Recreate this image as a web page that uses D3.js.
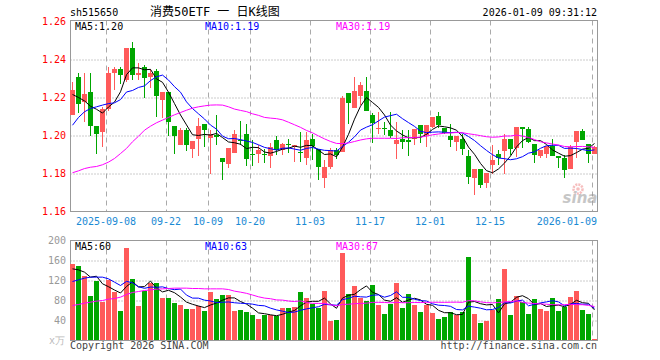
<!DOCTYPE html>
<html lang="zh">
<head>
<meta charset="UTF-8">
<title>消费50ETF 日K线图</title>
<script src="https://d3js.org/d3.v7.min.js"></script>
<style>
  body { margin: 0; background: #fff; }
  svg { display: block; background: #fff; }
  .mono { font-family: 'DejaVu Sans Mono', monospace; font-size: 10px; }
</style>
</head>
<body>
<svg width="660" height="360"></svg>
<script>
// daily bars, 2025-08-29 .. 2026-01-09 (88 trading days)
const open  = [1.211,1.231,1.218,1.223,1.205,1.202,1.214,1.233,1.235,1.229,
               1.246,1.232,1.236,1.231,1.234,1.219,1.223,1.205,1.195,1.203,
               1.193,1.198,1.206,1.199,1.2005,1.188,1.185,1.191,1.1975,1.201,
               1.190,1.1905,1.190,1.1895,1.1975,1.1925,1.1955,1.194,1.1915,1.188,
               1.198,1.193,1.1775,1.1835,1.1925,1.1915,1.2225,1.2145,1.2205,1.2235,
               1.211,1.2035,1.204,1.203,1.1955,1.198,1.1975,1.198,1.2055,1.200,
               1.2045,1.2105,1.204,1.200,1.1965,1.198,1.189,1.178,1.1825,1.175,
               1.1845,1.190,1.1915,1.198,1.1935,1.2045,1.2035,1.1955,1.1895,1.1905,
               1.1945,1.189,1.188,1.1825,1.1965,1.2025,1.1955,1.1905];
const high  = [1.228,1.233,1.233,1.233,1.205,1.215,1.236,1.236,1.236,1.246,
               1.249,1.238,1.237,1.235,1.235,1.223,1.223,1.205,1.204,1.204,
               1.197,1.209,1.206,1.203,1.211,1.188,1.1935,1.203,1.2075,1.206,
               1.1975,1.195,1.193,1.196,1.200,1.196,1.198,1.195,1.202,1.202,
               1.201,1.193,1.187,1.1935,1.1935,1.221,1.2225,1.231,1.228,1.231,
               1.212,1.2125,1.207,1.2125,1.207,1.203,1.203,1.2035,1.2055,1.2055,
               1.2095,1.2125,1.204,1.206,1.1995,1.201,1.1925,1.1825,1.1825,1.1805,
               1.195,1.1925,1.201,1.198,1.2045,1.2045,1.2045,1.1955,1.1915,1.1945,
               1.198,1.189,1.1895,1.195,1.2025,1.2035,1.1955,1.1945];
const low   = [1.211,1.212,1.207,1.200,1.190,1.194,1.213,1.224,1.227,1.228,
               1.229,1.229,1.220,1.225,1.210,1.209,1.200,1.190,1.195,1.192,
               1.188,1.189,1.194,1.180,1.195,1.1765,1.183,1.191,1.195,1.184,
               1.184,1.1855,1.1855,1.183,1.1895,1.1895,1.191,1.186,1.186,1.1845,
               1.187,1.1765,1.1725,1.1825,1.1875,1.1915,1.206,1.2145,1.216,1.213,
               1.196,1.201,1.2005,1.1985,1.1875,1.193,1.189,1.195,1.196,1.194,
               1.204,1.204,1.201,1.194,1.192,1.1895,1.1745,1.1685,1.1725,1.1725,
               1.180,1.1845,1.180,1.1895,1.1885,1.1935,1.196,1.1855,1.188,1.188,
               1.189,1.183,1.1775,1.1825,1.188,1.1975,1.1855,1.190];
const close = [1.224,1.217,1.222,1.205,1.201,1.214,1.233,1.235,1.232,1.246,
               1.232,1.233,1.230,1.233,1.221,1.223,1.207,1.200,1.203,1.195,
               1.197,1.205,1.203,1.201,1.1995,1.186,1.1935,1.201,1.197,1.188,
               1.1895,1.1925,1.1895,1.194,1.1925,1.1955,1.195,1.195,1.191,1.1975,
               1.1945,1.1835,1.1835,1.1925,1.190,1.220,1.217,1.2235,1.2265,1.213,
               1.207,1.204,1.2035,1.200,1.1975,1.1965,1.1965,1.2035,1.201,1.2055,
               1.2095,1.2055,1.2015,1.198,1.1995,1.1925,1.178,1.1825,1.174,1.1805,
               1.187,1.188,1.198,1.1925,1.2045,1.2035,1.1965,1.1895,1.1925,1.1945,
               1.189,1.188,1.1815,1.194,1.2025,1.198,1.1905,1.194];
// volume, 万手
const volume = [153,150,130,90,120,77,121,97,60,185,124,70,100,115,115,86,86,76,72,64,
                64,69,60,98,84,92,92,60,62,58,52,44,52,51,49,66,66,68,98,86,
                74,66,100,40,42,176,94,110,86,80,112,72,54,74,116,66,94,72,58,72,
                56,44,48,58,52,58,168,54,36,40,62,84,144,52,90,78,54,84,64,60,
                86,60,68,88,100,62,54,2];

// moving-average values at the first bars, whose window starts before the chart
const ma5Lead  = [1.2216,1.2200,1.2182,1.2154];
const ma10Lead = [1.2054,1.2095,1.2125,1.2142,1.2151,1.2160,1.2168,1.2172,1.2189];
const ma30Lead = [1.1804,1.1814,1.1826,1.1833,1.1837,1.1846,1.1860,1.1879,1.1905,1.1932,
                  1.1967,1.1996,1.2028,1.2049,1.2067,1.2081,1.2095,1.2109,1.2121,1.2133,
                  1.2144,1.2151,1.2156,1.2160,1.2161,1.2160,1.2151,1.2139,1.2132];
const vMa5Lead  = [143.3,141.3,136.7,126.7];
const vMa10Lead = [118,121.3,124.7,126.7,126.7,126.7,123.3,116.7,110];
const vMa30Lead = [70,72,74.7,76.7,78.7,80,82.7,84,86.7,92,
                   96,98,100,101.3,102.7,103.3,104,104.7,104.7,104.7,
                   104,104,103.3,103.3,103.3,103.3,102,98.7,96.7];

const tickIndex  = [6,16,23,30,40,50,60,70,87];
const tickLabels = ["2025-09-08","09-22","10-09","10-20","11-03","11-17","12-01","12-15","2026-01-09"];
const priceTicks = [1.16,1.18,1.20,1.22,1.24,1.26];
const volTicks   = [40,80,120,160,200];
const priceLegend = ["MA5:1.20","MA10:1.19","MA30:1.19"];
const volLegend   = ["MA5:60","MA10:63","MA30:67"];

const RED = "#ff5a5a", GREEN = "#00a600";
const maColors = ["#000000", "#0000ff", "#ff00ff"];

const svg = d3.select("svg");
const L = 70, R = 598;

const x = d3.scaleBand().domain(d3.range(close.length)).range([L, R]);
const yP = d3.scaleLinear().domain([1.16, 1.26]).range([211.5, 21.5]);
const yV = d3.scaleLinear().domain([0, 200]).range([340.5, 240.5]);

function movingAvg(vals, n, lead) {
    return vals.map((v, i) => i < n - 1 ? lead[i] : d3.mean(vals.slice(i - n + 1, i + 1)));
}

// header
svg.append("text").attr("class", "mono").attr("x", 70).attr("y", 16)
    .text("sh515650");
svg.append("text").attr("x", 150).attr("y", 16)
    .attr("xml:space", "preserve").style("white-space", "pre")
    .style("font-family", "'DejaVu Sans Mono', 'Noto Sans CJK SC', monospace").style("font-size", "12px")
    .text("消费50ETF 一 日K线图");
svg.append("text").attr("class", "mono").attr("x", 597).attr("y", 16)
    .attr("text-anchor", "end")
    .text("2026-01-09 09:31:12");

function panel(y, top, bottom, ticks, gridTicks, labelColor) {
    const g = svg.append("g");
    // horizontal dotted grid
    g.append("g").attr("transform", `translate(${L + 0.5},0)`)
        .call(d3.axisLeft(y).tickValues(gridTicks).tickSize(-(R - L - 1)).tickFormat(""))
        .call(a => a.select(".domain").remove())
        .selectAll("line").attr("stroke", "#999").attr("stroke-dasharray", "1,2");
    // vertical dashed grid
    g.selectAll(".vgrid").data(tickIndex).enter().append("line")
        .attr("x1", i => x(i) + 0.5).attr("x2", i => x(i) + 0.5)
        .attr("y1", top).attr("y2", bottom)
        .attr("stroke", "#aaa").attr("stroke-dasharray", "5,4");
    // frame
    g.append("rect").attr("x", L + 0.5).attr("y", top)
        .attr("width", R - L - 1).attr("height", bottom - top)
        .attr("fill", "none").attr("stroke", "#999");
    // tick labels
    g.append("g").attr("transform", `translate(${L + 0.5},0)`)
        .call(d3.axisLeft(y).tickValues(ticks).tickSize(0).tickPadding(4.5)
            .tickFormat(d => y === yP ? d3.format(".2f")(d) : d))
        .call(a => a.select(".domain").remove())
        .selectAll("text").attr("class", "mono").attr("fill", labelColor);
    return g;
}

panel(yP, 20.5, 211.5, priceTicks, [1.18, 1.20, 1.22, 1.24], "#ff0000");
panel(yV, 240.5, 340.5, volTicks, [40, 80, 120, 160], "#999");

// candles
const idx = d3.range(close.length);
const col = i => close[i] >= open[i] ? RED : GREEN;
const cx = i => x(i) + 2.5;
const candles = svg.append("g");
candles.selectAll("line").data(idx).enter().append("line")
    .attr("x1", cx).attr("x2", cx)
    .attr("y1", i => Math.round(yP(high[i]))).attr("y2", i => Math.round(yP(low[i])))
    .attr("stroke", col);
candles.selectAll("rect").data(idx).enter().append("rect")
    .attr("x", i => x(i)).attr("width", 5)
    .attr("y", i => Math.round(yP(Math.max(open[i], close[i]))))
    .attr("height", i => Math.max(1, Math.round(Math.abs(yP(open[i]) - yP(close[i])))))
    .attr("fill", col);

// volume bars
svg.append("g").selectAll("rect").data(idx).enter().append("rect")
    .attr("x", i => x(i)).attr("width", 5)
    .attr("y", i => Math.round(yV(volume[i])))
    .attr("height", i => 340 - Math.round(yV(volume[i])))
    .attr("fill", col);

// moving averages
const priceMA = [movingAvg(close, 5, ma5Lead), movingAvg(close, 10, ma10Lead), movingAvg(close, 30, ma30Lead)];
const volMA = [movingAvg(volume, 5, vMa5Lead), movingAvg(volume, 10, vMa10Lead), movingAvg(volume, 30, vMa30Lead)];
priceMA.forEach((s, k) => {
    svg.append("path").datum(s)
        .attr("d", d3.line().x((d, i) => cx(i)).y(d => yP(d)))
        .attr("fill", "none").attr("stroke", maColors[k]).attr("stroke-width", 1);
});
volMA.forEach((s, k) => {
    svg.append("path").datum(s)
        .attr("d", d3.line().x((d, i) => cx(i)).y(d => yV(d)))
        .attr("fill", "none").attr("stroke", maColors[k]).attr("stroke-width", 1);
});

// legends
const legendX = [75, 205, 336];
priceLegend.forEach((t, k) => {
    svg.append("text").attr("class", "mono").attr("x", legendX[k]).attr("y", 30)
        .attr("fill", maColors[k]).text(t);
});
volLegend.forEach((t, k) => {
    svg.append("text").attr("class", "mono").attr("x", legendX[k]).attr("y", 250)
        .attr("fill", maColors[k]).text(t);
});

// date labels
svg.append("g").selectAll("text").data(tickIndex).enter().append("text")
    .attr("class", "mono")
    .attr("x", (d, k) => k === tickIndex.length - 1 ? R - 1 : x(d))
    .attr("y", 224.5)
    .attr("text-anchor", (d, k) => k === tickIndex.length - 1 ? "end" : "middle")
    .attr("fill", "#1a8ad4")
    .text((d, k) => tickLabels[k]);

// unit + footer
svg.append("text").attr("class", "mono").attr("x", 65).attr("y", 344)
    .attr("text-anchor", "end").attr("fill", "#bbb").text("x万");
svg.append("text").attr("class", "mono").attr("x", 70).attr("y", 348.5)
    .attr("fill", "#444").text("Copyright 2026 SINA.COM");
svg.append("text").attr("class", "mono").attr("x", 597).attr("y", 348.5)
    .attr("text-anchor", "end").attr("fill", "#444").text("http://finance.sina.com.cn");

// sina watermark
const logo = svg.append("g").attr("opacity", 0.55);
logo.append("circle").attr("cx", 578).attr("cy", 189).attr("r", 4.5)
    .attr("fill", "none").attr("stroke", "#f08a8a").attr("stroke-width", 2.5)
    .attr("stroke-dasharray", "2,1");
logo.append("circle").attr("cx", 578).attr("cy", 189).attr("r", 1.8).attr("fill", "#f08a8a");
logo.append("text").attr("x", 580).attr("y", 203).attr("text-anchor", "middle")
    .style("font-family", "'DejaVu Sans', sans-serif").style("font-size", "15px")
    .style("font-style", "italic").style("font-weight", "bold")
    .attr("fill", "#999").text("sina");
</script>
</body>
</html>
